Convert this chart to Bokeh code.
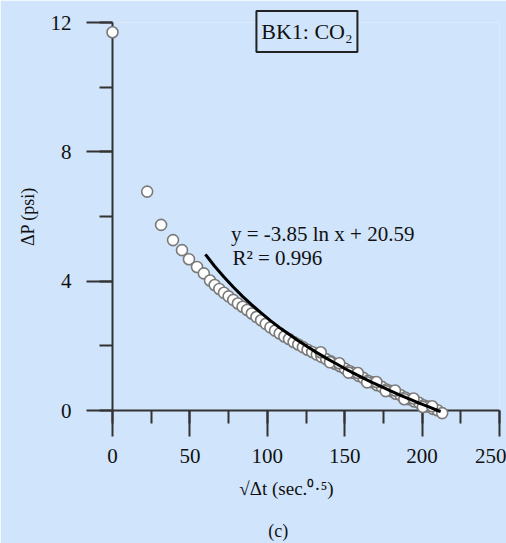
from bokeh.plotting import figure
from bokeh.models import SingleIntervalTicker, Range1d, ColumnDataSource
from bokeh.core.properties import value
from bokeh.embed import file_html
from bokeh.resources import INLINE

# measured points: sqrt(dt) [sec^0.5] vs dP [psi]
sqrt_dt = [0, 22.4, 31.4, 39.1, 44.9, 49.4, 54.6, 59,
           63, 66, 69, 72, 75, 78, 81, 84, 87, 90, 93, 96, 99, 102, 105, 108,
           111, 114, 117, 120, 123, 126, 129, 132, 135, 138, 141, 144, 147, 150,
           153, 156, 159, 162, 165, 168, 171, 174, 177, 180, 183, 186, 189, 192,
           195, 198, 201, 204, 207, 210, 213,
           134.5, 140.5, 146.5, 152.5, 158.5, 164.5, 170.5, 176.5, 182.5, 188.5,
           194.5, 200.5, 206.5]
delta_p = [11.7, 6.77, 5.74, 5.27, 4.96, 4.68, 4.44, 4.24,
           4.02, 3.88, 3.76, 3.64, 3.53, 3.42, 3.31, 3.21, 3.11, 3.00, 2.89, 2.79, 2.68, 2.57, 2.47, 2.38,
           2.29, 2.21, 2.12, 2.04, 1.96, 1.88, 1.81, 1.73, 1.66, 1.59, 1.52, 1.44, 1.37, 1.30,
           1.22, 1.16, 1.07, 1.01, 0.92, 0.87, 0.78, 0.73, 0.65, 0.60, 0.52, 0.48, 0.40, 0.35,
           0.28, 0.24, 0.16, 0.12, 0.05, 0.01, -0.08,
           1.80, 1.49, 1.46, 1.17, 1.16, 0.87, 0.88, 0.60, 0.62, 0.35,
           0.37, 0.11, 0.13]

# logarithmic trend line (y = -3.85 ln x + 20.59)
trend_x = [60, 66, 72, 78, 84, 90, 96, 102, 108, 114, 120, 126, 132, 138, 144, 150,
           156, 162, 168, 174, 180, 186, 192, 198, 204, 210, 212]
trend_y = [4.83, 4.46, 4.13, 3.82, 3.53, 3.27, 3.02, 2.78, 2.56, 2.36, 2.16, 1.97, 1.79,
           1.62, 1.46, 1.30, 1.15, 1.00, 0.86, 0.73, 0.60, 0.47, 0.35, 0.23, 0.12, 0.00, -0.03]

x_ticks = [0, 50, 100, 150, 200, 250]
y_ticks = [0, 4, 8, 12]

box_text = ["BK1: CO₂"]
equation_text = ["y = -3.85 ln x + 20.59", "R² = 0.996"]
x_title = ["√Δt (sec.⁰·⁵)"]
panel_text = ["(c)"]

BG = "#d0e4fb"
AX = "#333333"
TXT = "#111111"
SERIF = "Liberation Serif"

p = figure(width=506, height=543, output_backend="svg", toolbar_location=None,
           x_range=Range1d(x_ticks[0], x_ticks[-1]), y_range=Range1d(y_ticks[0], y_ticks[-1]),
           min_border_left=112, min_border_top=22, min_border_right=7, min_border_bottom=133)
p.background_fill_color = BG
p.border_fill_color = BG
p.outline_line_color = None
p.grid.visible = False

p.xaxis.ticker = SingleIntervalTicker(interval=50, num_minor_ticks=2)
p.yaxis.ticker = SingleIntervalTicker(interval=4, num_minor_ticks=2)

for ax in (p.xaxis, p.yaxis):
    ax.axis_line_color = AX
    ax.axis_line_width = 2
    ax.major_tick_line_color = AX
    ax.major_tick_line_width = 2
    ax.minor_tick_line_color = AX
    ax.minor_tick_line_width = 2
    ax.major_tick_out = 26
    ax.major_tick_in = 0
    ax.minor_tick_out = 13
    ax.minor_tick_in = 0
    ax.major_label_text_font = SERIF
    ax.major_label_text_font_size = "21px"
    ax.major_label_text_color = TXT
    ax.axis_label_text_font = SERIF
    ax.axis_label_text_font_style = "normal"
    ax.axis_label_text_color = TXT

p.xaxis.major_label_standoff = 12
p.yaxis.major_label_standoff = 15
p.yaxis.axis_label = "ΔP (psi)"
p.yaxis.axis_label_text_font_size = "18px"
p.yaxis.axis_label_standoff = 10

src = ColumnDataSource(dict(x=sqrt_dt, y=delta_p))
p.scatter("x", "y", source=src, marker="circle", size=11, fill_color="white",
          line_color="#7a7a7a", line_width=1.6, level="overlay")
p.line(trend_x, trend_y, line_color="black", line_width=3, level="overlay")

# boxed series label
p.rect(x=[125.6], y=[11.72], width=101, height=41, width_units="screen", height_units="screen",
       fill_color=BG, line_color="#222222", line_width=2, level="overlay")
p.text(x=[125.6], y=[11.72], text=box_text, text_font=value(SERIF), text_font_size="22px",
       text_align="center", text_baseline="middle", text_color=TXT, level="overlay")

# regression annotation
p.text(x=[76.5, 77.5], y=[5.47, 4.73], text=equation_text, text_font=value(SERIF),
       text_font_size="21px", text_baseline="middle", text_color=TXT, level="overlay")

# x-axis title (placed off-centre as in the original)
p.text(x=[112.4], y=[-2.42], text=x_title, text_font=value(SERIF), text_font_size="19px",
       text_align="center", text_baseline="middle", text_color=TXT, level="overlay")

# panel letter
p.text(x=[107], y=[-3.72], text=panel_text, text_font=value(SERIF), text_font_size="18px",
       text_align="center", text_baseline="middle", text_color=TXT, level="overlay")

open("out.html", "w").write(file_html(p, INLINE))
